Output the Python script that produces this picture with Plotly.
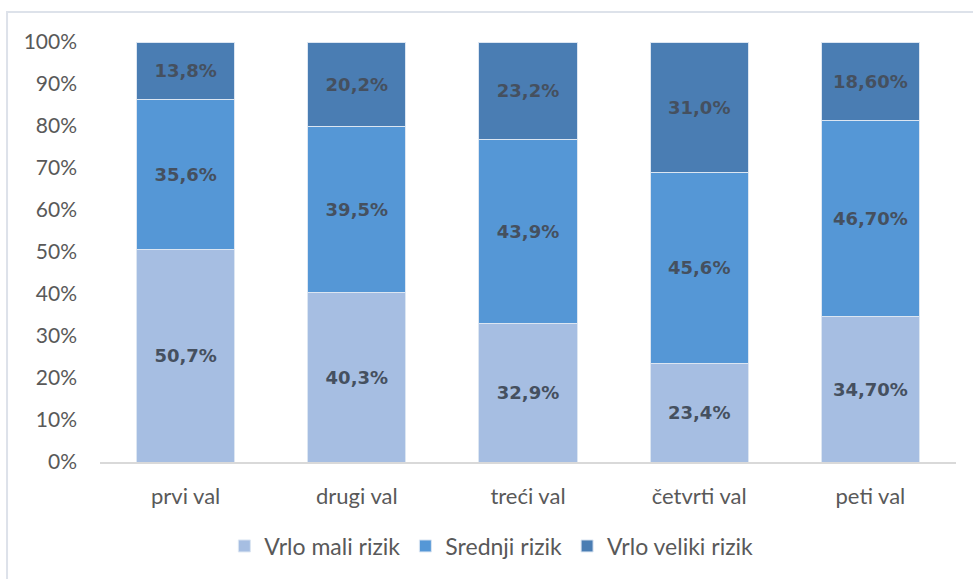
import plotly.graph_objects as go

categories = ["prvi val", "drugi val", "treći val", "četvrti val", "peti val"]
vrlo_mali = [50.7, 40.3, 32.9, 23.4, 34.70]
srednji = [35.6, 39.5, 43.9, 45.6, 46.70]
vrlo_veliki = [13.8, 20.2, 23.2, 31.0, 18.60]
labels_mali = ["50,7%", "40,3%", "32,9%", "23,4%", "34,70%"]
labels_srednji = ["35,6%", "39,5%", "43,9%", "45,6%", "46,70%"]
labels_veliki = ["13,8%", "20,2%", "23,2%", "31,0%", "18,60%"]
y_ticks = [0, 10, 20, 30, 40, 50, 60, 70, 80, 90, 100]

series = [
    ("Vrlo mali rizik", vrlo_mali, labels_mali, "#a6bee2"),
    ("Srednji rizik", srednji, labels_srednji, "#5597d6"),
    ("Vrlo veliki rizik", vrlo_veliki, labels_veliki, "#4a7db3"),
]

fig = go.Figure()
for name, vals, labs, col in series:
    fig.add_trace(go.Bar(
        name=name, x=categories, y=vals, text=labs,
        textposition="inside", insidetextanchor="middle",
        textfont=dict(family="DejaVu Sans", size=18, color="#45505f", weight="bold"),
        marker=dict(color=col, line=dict(color="#dce6f2", width=1)),
        width=0.573, hoverinfo="skip",
    ))

fig.update_layout(
    barmode="stack", barnorm="percent",
    width=973, height=579,
    margin=dict(l=100, r=17, t=42, b=117),
    paper_bgcolor="white", plot_bgcolor="white",
    showlegend=True,
    legend=dict(
        orientation="h", xref="container", yref="container",
        x=0.505, xanchor="center", y=0.057, yanchor="middle",
        font=dict(family="Lato", size=23, color="#595959"),
        traceorder="normal",
    ),
    shapes=[dict(
        type="rect", xref="paper", yref="paper",
        x0=-0.1086, x1=1.08, y0=-0.32, y1=1.0714,
        line=dict(color="#dde2ea", width=2), layer="below",
    )],
)
fig.update_xaxes(
    range=[-0.5, 4.5], showline=True, linecolor="#d9d9d9", linewidth=2,
    tickfont=dict(family="Lato", size=22, color="#595959"),
    ticks="", ticklabelstandoff=14, showgrid=False,
)
fig.update_yaxes(
    range=[0, 100], tickvals=y_ticks, ticktext=[f"{v}%" for v in y_ticks],
    tickfont=dict(family="Lato", size=21, color="#595959"),
    ticks="", showgrid=False, zeroline=False,
    showline=False, ticklabelstandoff=22,
)

fig.write_html("out.html")
